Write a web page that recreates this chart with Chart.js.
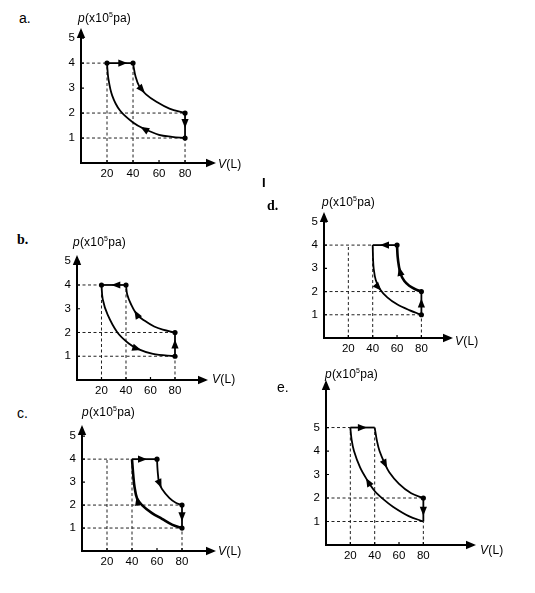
<!DOCTYPE html>
<html>
<head>
<meta charset="utf-8">
<script src="https://cdn.jsdelivr.net/npm/chart.js@4/dist/chart.umd.min.js"></script>
<style>
  body { margin: 0; width: 535px; height: 593px; position: relative; overflow: hidden; background: #fff;
         font-family: "Liberation Sans", Arial, sans-serif; color: #000; }
  canvas { position: absolute; }
  .t { position: absolute; white-space: nowrap; line-height: 1; font-size: 12px; letter-spacing: 0.2px; }
  .t sup { font-size: 7px; vertical-align: 5px; }
  .t i { font-style: italic; }
  .tag { position: absolute; line-height: 1; font-size: 14px; }
  .serif { font-family: "Liberation Serif", "Times New Roman", serif; font-weight: bold; }
</style>
</head>
<body>

<canvas id="ca" width="184" height="167" style="left:41px;top:18px"></canvas>
<canvas id="cb" width="180" height="157" style="left:37px;top:245px"></canvas>
<canvas id="cc" width="183" height="158" style="left:42px;top:415px"></canvas>
<canvas id="cd" width="178" height="158" style="left:284px;top:202px"></canvas>
<canvas id="ce" width="199" height="197" style="left:286px;top:370px"></canvas>

<div class="tag" style="left:19px;top:11px">a.</div>
<div class="t" style="left:78px;top:11px"><i>p</i>(x10<sup>5</sup>pa)</div>
<div class="t" style="left:218px;top:158px"><i>V</i>(L)</div>

<div class="tag serif" style="left:17px;top:233px">b.</div>
<div class="t" style="left:73px;top:235px"><i>p</i>(x10<sup>5</sup>pa)</div>
<div class="t" style="left:212px;top:373px"><i>V</i>(L)</div>

<div class="tag" style="left:17px;top:406px">c.</div>
<div class="t" style="left:82px;top:405px"><i>p</i>(x10<sup>5</sup>pa)</div>
<div class="t" style="left:218px;top:545px"><i>V</i>(L)</div>

<div class="tag serif" style="left:267px;top:199px">d.</div>
<div class="t" style="left:322px;top:195px"><i>p</i>(x10<sup>5</sup>pa)</div>
<div class="t" style="left:455px;top:335px"><i>V</i>(L)</div>

<div class="tag" style="left:277px;top:380px">e.</div>
<div class="t" style="left:325px;top:367px"><i>p</i>(x10<sup>5</sup>pa)</div>
<div class="t" style="left:480px;top:544px"><i>V</i>(L)</div>

<div class="t" style="left:262px;top:176px;font-weight:bold;font-size:13px">I</div>

<script>
// tick labels shared by all five diagrams
const xTicks = [20, 40, 60, 80]
const yTicks = [1, 2, 3, 4, 5]

// a. clockwise, 20L -> 40L at 4
const aTop = [[20, 4], [40, 4]]
const aHot = [[40, 4], [42, 3.45], [45, 3.05], [50, 2.75], [58, 2.45], [68, 2.18], [80, 2]]
const aDrop = [[80, 2], [80, 1]]
const aCold = [[80, 1], [70, 1.05], [60, 1.13], [48, 1.38], [40, 1.62], [30, 2.1], [24, 2.7], [21, 3.4], [20, 4]]
const aDots = [[20, 4], [40, 4], [80, 2], [80, 1]]
const aGuides = [[[0, 4], [20, 4]], [[0, 2], [80, 2]], [[0, 1], [80, 1]], [[20, 0], [20, 4]], [[40, 0], [40, 4]], [[80, 0], [80, 1]]]

// b. same corners, run the other way
const bTop = [[40, 4], [20, 4]]
const bCold = [[20, 4], [21, 3.4], [25, 2.75], [33, 2.0], [42, 1.55], [50, 1.3], [62, 1.1], [80, 1]]
const bRise = [[80, 1], [80, 2]]
const bHot = [[80, 2], [70, 2.12], [63, 2.25], [55, 2.5], [49, 2.75], [44, 3.2], [41, 3.6], [40, 4]]
const bDots = [[20, 4], [40, 4], [80, 2], [80, 1]]
const bGuides = [[[0, 4], [20, 4]], [[0, 2], [80, 2]], [[0, 1], [80, 1]], [[20, 0], [20, 4]], [[40, 0], [40, 4]], [[80, 0], [80, 1]]]

// c. 40L -> 60L at 4
const cTop = [[40, 4], [60, 4]]
const cHot = [[60, 4], [60.5, 3.5], [61.6, 3], [64, 2.7], [70, 2.3], [75, 2.1], [80, 2]]
const cDrop = [[80, 2], [80, 1]]
const cCold = [[80, 1], [72, 1.15], [64, 1.4], [56, 1.65], [48, 2.0], [44, 2.3], [42, 2.8], [41, 3.3], [40, 4]]
const cDots = [[60, 4], [80, 2], [80, 1]]
const cGuides = [[[0, 4], [40, 4]], [[0, 2], [80, 2]], [[0, 1], [80, 1]], [[20, 0], [20, 4]], [[40, 0], [40, 4]], [[80, 0], [80, 1]]]

// d. c run backwards
const dTop = [[60, 4], [40, 4]]
const dCold = [[40, 4], [40.3, 3.4], [40.8, 3], [42.5, 2.5], [46, 2.1], [52, 1.75], [60, 1.45], [70, 1.2], [80, 1]]
const dRise = [[80, 1], [80, 2]]
const dHot = [[80, 2], [75, 2.1], [70, 2.25], [66, 2.45], [63, 2.75], [61.5, 3.1], [60.5, 3.5], [60, 4]]
const dDots = [[60, 4], [80, 2], [80, 1]]
const dGuides = [[[0, 4], [40, 4]], [[0, 2], [80, 2]], [[0, 1], [80, 1]], [[20, 0], [20, 4]], [[40, 0], [40, 4]], [[80, 0], [80, 1]]]

// e. top at 5
const eTop = [[20, 5], [40, 5]]
const eHot = [[40, 5], [42, 4.4], [44, 4], [48, 3.5], [52, 3.1], [60, 2.6], [70, 2.2], [80, 2]]
const eDrop = [[80, 2], [80, 1]]
const eCold = [[80, 1], [68, 1.23], [55, 1.63], [47, 1.95], [40, 2.3], [34, 2.75], [28, 3.3], [23, 4.0], [21, 4.5], [20, 5]]
const eDots = [[80, 2]]
const eGuides = [[[0, 5], [20, 5]], [[0, 2], [80, 2]], [[0, 1], [80, 1]], [[20, 0], [20, 5]], [[40, 0], [40, 5]], [[80, 0], [80, 1]]]

const ink = '#000'

const panels = [
  { id: 'ca', xMax: 101.5, yMax: 5.29, dots: aDots, guides: aGuides,
    segs: [[aTop, 0.78], [aHot, 0.42], [aDrop, 0.6], [aCold, 0.38]] },
  { id: 'cb', xMax: 104.5, yMax: 5.14, dots: bDots, guides: bGuides,
    segs: [[bTop, 0.6], [bCold, 0.7], [bRise, 0.7], [bHot, 0.64]] },
  { id: 'cc', xMax: 104.8, yMax: 5.36, dots: cDots, guides: cGuides, thick: true,
    segs: [[cTop, 0.6], [cHot, 0.52], [cDrop, 0.7], [cCold, 0.6]] },
  { id: 'cd', xMax: 103.5, yMax: 5.3, dots: dDots, guides: dGuides, thick: true,
    segs: [[dTop, 0.7], [dCold, 0.5], [dRise, 0.7], [dHot, 0.62]] },
  { id: 'ce', xMax: 120.8, yMax: 6.9, dots: eDots, guides: eGuides,
    segs: [[eTop, 0.68], [eHot, 0.47], [eDrop, 0.75], [eCold, 0.58]] },
]

function pts(arr) {
  return arr.map(p => ({ x: p[0], y: p[1] }))
}

function head(ctx, x, y, ang, len, half) {
  const c = Math.cos(ang), s = Math.sin(ang)
  ctx.beginPath()
  ctx.moveTo(x, y)
  ctx.lineTo(x - len * c - half * s, y - len * s + half * c)
  ctx.lineTo(x - len * c + half * s, y - len * s - half * c)
  ctx.closePath()
  ctx.fill()
}

// arrowheads on the cycle, inward tick marks and the axis arrows
const arrows = {
  id: 'arrows',
  afterDraw(chart) {
    const ctx = chart.ctx
    const xs = chart.scales.x, ys = chart.scales.y
    const area = chart.chartArea
    ctx.save()
    ctx.fillStyle = ink
    ctx.strokeStyle = ink
    chart.data.datasets.forEach(ds => {
      if (ds.arrowAt == null) return
      const p = ds.data.map(d => [xs.getPixelForValue(d.x), ys.getPixelForValue(d.y)])
      const lens = []
      let total = 0
      for (let i = 1; i < p.length; i++) {
        const l = Math.hypot(p[i][0] - p[i - 1][0], p[i][1] - p[i - 1][1])
        lens.push(l)
        total += l
      }
      let want = total * ds.arrowAt
      for (let i = 0; i < lens.length; i++) {
        if (want <= lens[i] || i == lens.length - 1) {
          const f = lens[i] ? want / lens[i] : 0
          const x = p[i][0] + (p[i + 1][0] - p[i][0]) * f
          const y = p[i][1] + (p[i + 1][1] - p[i][1]) * f
          const ang = Math.atan2(p[i + 1][1] - p[i][1], p[i + 1][0] - p[i][0])
          head(ctx, x, y, ang, 9, 3.6)
          break
        }
        want -= lens[i]
      }
    })
    // ticks point into the plot
    ctx.lineWidth = 1.2
    ctx.beginPath()
    xTicks.forEach(v => {
      const x = xs.getPixelForValue(v)
      ctx.moveTo(x, area.bottom)
      ctx.lineTo(x, area.bottom - 3)
    })
    yTicks.forEach(v => {
      const y = ys.getPixelForValue(v)
      ctx.moveTo(area.left - 1, y)
      ctx.lineTo(area.left + 3, y)
    })
    ctx.stroke()
    head(ctx, area.right + 3, area.bottom, 0, 10, 4.2)
    head(ctx, area.left, area.top - 3, -Math.PI / 2, 10, 4.2)
    ctx.restore()
  }
}

panels.forEach(pn => {
  const datasets = []
  pn.segs.forEach((s, i) => {
    const heavy = pn.thick && i == 3
    datasets.push({
      data: pts(s[0]),
      arrowAt: s[1],
      showLine: true,
      borderColor: ink,
      borderWidth: heavy ? 2.6 : 1.8,
      tension: 0.35,
      pointRadius: 0,
      order: 1,
    })
  })
  datasets.push({
    data: pts(pn.dots),
    showLine: false,
    pointRadius: 2.6,
    pointBackgroundColor: ink,
    pointBorderWidth: 0,
    order: 0,
  })
  pn.guides.forEach(g => {
    datasets.push({
      data: pts(g),
      showLine: true,
      borderColor: '#222',
      borderWidth: 1,
      borderDash: [3, 2.5],
      pointRadius: 0,
      order: 2,
    })
  })

  new Chart(document.getElementById(pn.id), {
    type: 'scatter',
    data: { datasets: datasets },
    options: {
      responsive: false,
      animation: false,
      layout: { padding: { top: 10, right: 12, left: 0, bottom: 0 } },
      plugins: { legend: { display: false }, tooltip: { enabled: false } },
      scales: {
        x: {
          type: 'linear',
          min: 0,
          max: pn.xMax,
          afterBuildTicks: s => { s.ticks = xTicks.map(v => ({ value: v })) },
          afterFit: s => { s.height = 22 },
          grid: { display: false, drawTicks: false },
          border: { display: true, color: ink, width: 2 },
          ticks: { color: ink, padding: 4, font: { family: 'Liberation Sans', size: 11.5 } },
        },
        y: {
          type: 'linear',
          min: 0,
          max: pn.yMax,
          afterBuildTicks: s => { s.ticks = yTicks.map(v => ({ value: v })) },
          afterFit: s => { s.width = 40 },
          grid: { display: false, drawTicks: false },
          border: { display: true, color: ink, width: 2 },
          ticks: { color: ink, padding: 6, font: { family: 'Liberation Sans', size: 11.5 } },
        },
      },
    },
    plugins: [arrows],
  })
})
</script>
</body>
</html>
